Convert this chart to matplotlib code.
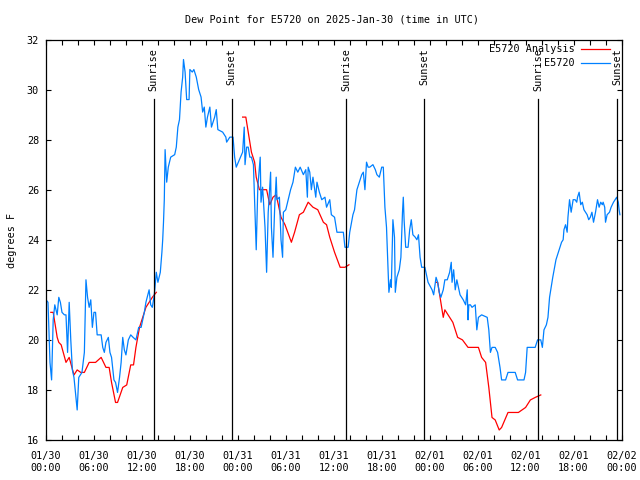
import numpy as np
import matplotlib
matplotlib.use("Agg")
import matplotlib.pyplot as plt

nan = np.nan

# Hours since 2025-01-30 00:00 UTC
blue_hours = [0.0, 0.25, 0.5, 0.7, 0.9, 1.1, 1.4, 1.6, 1.8, 2.0, 2.3, 2.5, 2.7, 2.9, 3.1, 3.3, 3.5, 3.9, 4.1, 4.5,
              4.8, 5.0, 5.2, 5.4, 5.6, 5.8, 6.0, 6.2, 6.4, 6.9, 7.1, 7.3, 7.5, 7.8, 8.0, 8.2, 8.5, 8.7, 8.95, 9.2,
              9.4, 9.6, 9.8, 10.0, 10.3, 10.6, 10.9, 11.25, 11.6, 11.9, 12.3, 12.5, 12.9, 13.1, 13.3, 13.55, 13.8, 14.0, 14.3, 14.5,
              14.6, 14.7, 14.8, 14.9, 15.1, 15.3, 15.6, 16.1, 16.3, 16.5, 16.7, 16.9, 17.1, 17.2, 17.4, 17.6, 17.9, 18.0, 18.3, 18.5,
              18.8, 19.1, 19.4, 19.6, 19.8, 20.0, 20.2, 20.5, 20.7, 20.9, 21.1, 21.3, 21.5, 22.1, 22.5, 22.6, 23.0, 23.4, 23.6, 23.8,
              24.2, 24.6, 24.8, 24.9, 25.1, 25.3, 25.5, 25.7, 25.95, 26.2, 26.3, 26.5, 26.6, 26.8, 26.9, 27.1, 27.4, 27.6, 27.8, 27.9,
              28.1, 28.2, 28.4, 28.6, 28.8, 28.9, 29.2, 29.4, 29.6, 29.7, 30.0, 30.3, 30.6, 30.9, 31.2, 31.5, 31.8, 32.2, 32.5, 32.7,
              32.8, 33.0, 33.2, 33.4, 33.75, 33.9, 34.2, 34.5, 34.9, 35.1, 35.5, 35.7, 36.1, 36.4, 37.2, 37.4, 37.8, 38.0, 38.4, 38.6,
              38.9, 39.2, 39.5, 39.7, 39.9, 40.1, 40.3, 40.5, 40.9, 41.2, 41.4, 41.7, 42.0, 42.2, 42.4, 42.6, 42.8, 42.9, 43.1, 43.2,
              43.4, 43.6, 43.7, 43.9, 44.2, 44.4, 44.6, 44.7, 44.8, 45.0, 45.3, 45.5, 45.7, 45.9, 46.2, 46.4, 46.6, 46.8, 47.0, 47.4,
              47.6, 47.8, 48.3, 48.5, 48.8, 49.0, 49.2, 49.4, 49.7, 49.9, 50.2, 50.5, 50.7, 50.8, 51.0, 51.2, 51.4, 51.6, 51.8, 52.2,
              52.5, 52.7, 52.8, 52.9, 53.1, 53.3, 53.7, 53.9, 54.1, 54.5, 55.2, 55.4, 55.6, 55.8, 56.2, 56.5, 56.8, 57.0, 57.5, 57.8,
              58.3, 58.7, 59.0, 59.8, 60.0, 60.2, 61.2, 61.5, 61.9, 62.1, 62.3, 62.6, 62.8, 63.0, 63.4, 63.8, 64.2, 64.5, 64.7, 64.8,
              65.0, 65.2, 65.3, 65.5, 65.7, 65.95, 66.2, 66.4, 66.5, 66.7, 66.9, 67.1, 67.3, 67.5, 67.7, 67.9, 68.1, 68.3, 68.5, 68.75,
              69.0, 69.2, 69.4, 69.6, 69.7, 69.9, 70.0, 70.2, 70.5, 70.7, 71.0, 71.2, 71.4, 71.6, 71.7, 71.8]
blue_vals = [21.6, 21.5, 19.1, 18.4, 20.8, 21.4, 21.0, 21.7, 21.5, 21.1, 21.0, 21.0, 19.5, 21.5, 20.0, 18.8, 18.5, 17.2, 18.5, 18.7,
             19.5, 22.4, 21.7, 21.3, 21.6, 20.5, 21.1, 21.1, 20.2, 20.2, 19.7, 19.5, 19.9, 20.1, 19.5, 19.3, 18.4, 18.3, 17.9, 18.5,
             19.1, 20.1, 19.6, 19.4, 20.0, 20.2, 20.1, 20.0, 20.5, 20.5, 21.1, 21.5, 22.0, 21.4, 21.3, 21.8, 22.7, 22.3, 22.7, 23.5,
             24.0, 24.7, 25.6, 27.6, 26.3, 26.9, 27.3, 27.4, 27.7, 28.5, 28.8, 29.9, 30.5, 31.2, 30.7, 29.6, 29.6, 30.8, 30.7, 30.8,
             30.5, 30.0, 29.7, 29.1, 29.3, 28.5, 28.9, 29.3, 28.5, 28.7, 28.9, 29.2, 28.4, 28.3, 28.1, 27.9, 28.1, 28.1, 27.3, 26.9,
             27.2, 27.5, 28.5, 27.0, 27.7, 27.7, 27.3, 27.3, 27.0, 24.5, 23.6, 26.1, 26.5, 27.3, 25.5, 26.1, 24.5, 22.7, 25.1, 25.6,
             26.7, 24.5, 23.3, 25.2, 26.5, 25.6, 25.7, 24.0, 23.3, 25.1, 25.2, 25.6, 26.0, 26.3, 26.9, 26.7, 26.9, 26.6, 26.8, 25.7,
             26.9, 26.7, 26.0, 26.5, 25.7, 26.3, 25.9, 25.6, 25.7, 25.3, 25.6, 25.0, 24.9, 24.3, 24.3, 23.7, 23.7, 24.3, 25.0, 25.2,
             26.0, 26.3, 26.6, 26.7, 26.0, 27.1, 26.9, 26.9, 27.0, 26.8, 26.6, 26.5, 26.9, 26.9, 25.3, 24.5, 22.8, 21.9, 22.4, 22.1,
             24.8, 24.1, 21.9, 22.5, 22.8, 23.3, 25.1, 25.7, 24.8, 23.7, 23.7, 24.4, 24.8, 24.2, 24.1, 24.0, 24.2, 23.3, 22.9, 22.9,
             22.6, 22.3, 22.0, 21.8, 22.5, 22.3, 21.9, 21.7, 22.0, 22.4, 22.4, 22.7, 23.1, 22.3, 22.8, 22.0, 22.4, 22.1, 21.8, 21.6,
             21.4, 22.0, 20.8, 21.4, 21.4, 21.3, 21.4, 20.4, 20.9, 21.0, 20.9, 20.4, 19.5, 19.7, 19.7, 19.5, 18.9, 18.4, 18.4, 18.7,
             18.7, 18.7, 18.4, 18.4, 18.7, 19.7, 19.7, 20.0, 20.0, 19.7, 20.4, 20.6, 20.9, 21.7, 22.5, 23.2, 23.6, 23.9, 24.0, 24.4,
             24.6, 24.3, 24.9, 25.6, 25.1, 25.6, 25.6, 25.5, 25.7, 25.9, 25.4, 25.5, 25.2, 25.1, 25.0, 24.8, 24.9, 25.1, 24.7, 25.1,
             25.6, 25.3, 25.5, 25.4, 25.5, 25.3, 24.7, 25.0, 25.1, 25.3, 25.5, 25.6, 25.7, 25.5, 25.2, 25.0]

red_hours = [0.6, 0.9, 1.4, 1.6, 1.9, 2.5, 2.9, 3.5, 3.9, 4.35, 4.8, 5.4, 6.2, 6.9, 7.5, 7.9, 8.2, 8.7, 8.95, 9.6,
             10.1, 10.6, 10.95, 11.25, 11.7, 12.5, 13.3, 13.8, 19.0,
             24.6, 25.0, 25.3, 25.7, 26.1, 26.3, 26.7, 27.6, 28.0, 28.4, 28.8, 29.4, 29.9, 30.7, 31.1, 31.7, 32.2, 32.8, 33.4, 34.0,
             34.7, 35.1, 35.5, 36.1, 36.8, 37.4, 37.9, 43.0,
             48.8, 49.0, 49.3, 49.7, 49.9, 50.3, 50.9, 51.5, 52.1, 52.8, 53.7, 54.1, 54.5, 55.0, 55.4, 55.8, 56.2, 56.7, 57.0, 57.8,
             58.3, 59.1, 60.0, 60.6, 61.2, 61.9]
red_vals = [21.1, 21.1, 20.1, 19.9, 19.8, 19.1, 19.3, 18.6, 18.8, 18.7, 18.7, 19.1, 19.1, 19.3, 18.9, 18.9, 18.3, 17.5, 17.5, 18.1,
            18.2, 19.0, 19.0, 19.7, 20.5, 21.3, 21.7, 21.9, nan,
            28.9, 28.9, 28.3, 27.5, 27.1, 26.5, 26.0, 26.0, 25.4, 25.7, 25.8, 24.9, 24.6, 23.9, 24.3, 25.0, 25.1, 25.5, 25.3, 25.2,
            24.7, 24.6, 24.1, 23.5, 22.9, 22.9, 23.0, nan,
            22.3, 22.3, 21.7, 20.9, 21.2, 21.0, 20.7, 20.1, 20.0, 19.7, 19.7, 19.7, 19.3, 19.1, 18.1, 16.9, 16.8, 16.4, 16.5, 17.1,
            17.1, 17.1, 17.3, 17.6, 17.7, 17.8]

sun_hours = [13.46, 23.25, 37.55, 47.34, 61.57, 71.45]
sun_labels = ["Sunrise", "Sunset", "Sunrise", "Sunset", "Sunrise", "Sunset"]

xtick_hours = [0, 6, 12, 18, 24, 30, 36, 42, 48, 54, 60, 66, 72]
xtick_labels = ["01/30\n00:00", "01/30\n06:00", "01/30\n12:00", "01/30\n18:00",
                "01/31\n00:00", "01/31\n06:00", "01/31\n12:00", "01/31\n18:00",
                "02/01\n00:00", "02/01\n06:00", "02/01\n12:00", "02/01\n18:00", "02/02\n00:00"]
yticks = [16, 18, 20, 22, 24, 26, 28, 30, 32]

title = "Dew Point for E5720 on 2025-Jan-30 (time in UTC)"
legend_labels = ["E5720 Analysis", "E5720"]

RED = "#ff0000"
BLUE = "#0080ff"
FS = 7.3
plt.rcParams['font.family'] = ['DejaVu Sans Mono']

fig = plt.figure(figsize=(6.4, 4.8), dpi=100)
L, R, T, B = 46, 621.5, 39.5, 440
ax = fig.add_axes([L / 640, 1 - B / 480, (R - L) / 640, (B - T) / 480])

ax.plot(red_hours, red_vals, color=RED, lw=0.9)
ax.plot(blue_hours, blue_vals, color=BLUE, lw=0.9)

line_top = (B - 99) / (B - T)
for h, lab in zip(sun_hours, sun_labels):
    ax.axvline(h, ymin=0, ymax=line_top, color="black", lw=0.9)
    ax.text(h, 1 - (48 - T) / (B - T), lab, transform=ax.get_xaxis_transform(),
            rotation=90, ha="center", va="top", fontsize=FS)

ax.set_xlim(0, 72)
ax.set_ylim(16, 32)
ax.set_xticks(xtick_hours)
ax.set_xticklabels(xtick_labels, fontsize=FS, linespacing=1.25)
ax.set_xticks(np.arange(0, 73, 2), minor=True)
ax.set_yticks(yticks)
ax.set_yticklabels([str(v) for v in yticks], fontsize=FS)
ax.tick_params(axis="both", which="both", direction="in", top=True, right=True,
               length=3.5, width=0.8)
ax.tick_params(axis="x", which="major", pad=8)
ax.tick_params(axis="y", which="major", pad=5)
for s in ax.spines.values():
    s.set_linewidth(0.9)

# legend (manual, gnuplot style)
ly = [1 - (49 - T) / (B - T), 1 - (62.5 - T) / (B - T)]
for lab, col, y in zip(legend_labels, [RED, BLUE], ly):
    ax.text((575 - L) / (R - L), y, lab, transform=ax.transAxes, ha="right", va="center", fontsize=FS)
    ax.plot([(581 - L) / (R - L), (610 - L) / (R - L)], [y, y], transform=ax.transAxes,
            color=col, lw=0.9, clip_on=False)

fig.text(332 / 640, 1 - 20 / 480, title, ha="center", va="center", fontsize=FS)
fig.text(12 / 640, 1 - 240 / 480, "degrees F", rotation=90, ha="center", va="center", fontsize=FS)

fig.savefig("out.png", dpi=100)
